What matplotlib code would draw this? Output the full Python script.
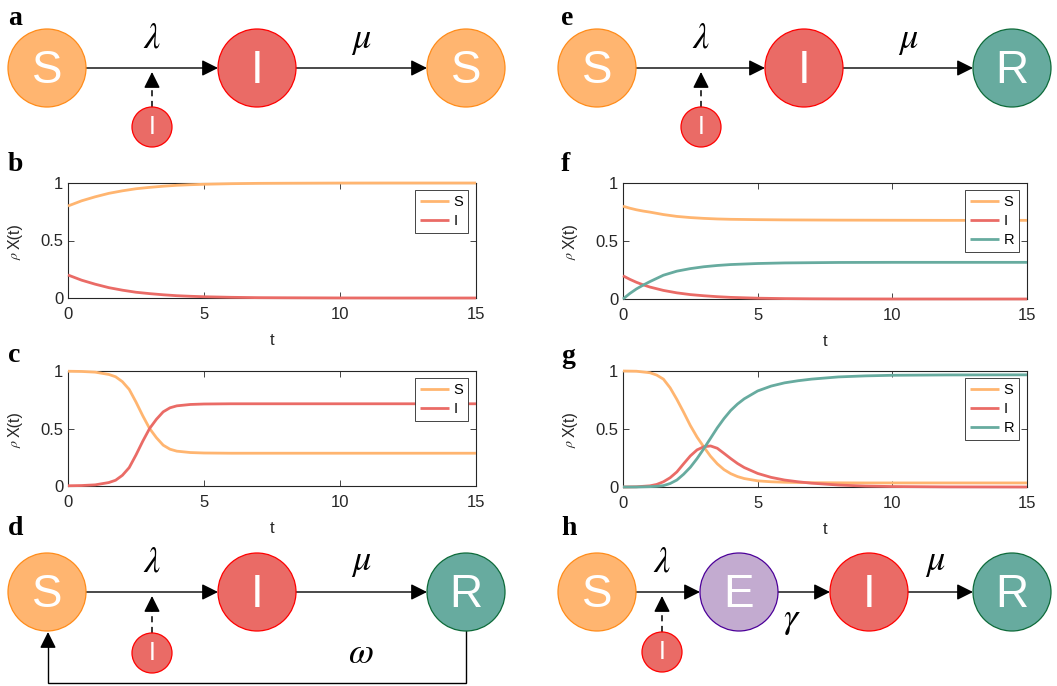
import matplotlib
matplotlib.use('Agg')
import matplotlib.pyplot as plt
from matplotlib.patches import Circle

plt.rcParams['font.family'] = ['Liberation Sans', 'DejaVu Sans']
plt.rcParams['mathtext.fontset'] = 'stix'

# ---------------- data ----------------
series_names = ['S', 'I', 'R']
tick_x = [0, 5, 10, 15]
tick_y = [0, 0.5, 1]
tick_y_labels = ['0', '0.5', '1']

# panel b: SIS, dying out
t_b = [0, 0.5, 1, 1.5, 2, 2.5, 3, 3.5, 4, 4.5, 5, 6, 7, 8, 10, 12, 15]
b_S = [0.80, 0.845, 0.88, 0.91, 0.932, 0.95, 0.962, 0.972, 0.98, 0.985, 0.989, 0.994, 0.997, 0.998, 0.9995, 1.0, 1.0]
b_I = [0.20, 0.155, 0.12, 0.09, 0.068, 0.05, 0.038, 0.028, 0.02, 0.015, 0.011, 0.006, 0.003, 0.002, 0.0005, 0.0, 0.0]

# panel c: SIS, endemic
t_c = [0, 0.5, 1, 1.5, 1.75, 2, 2.25, 2.5, 2.75, 3, 3.25, 3.5, 3.75, 4, 4.5, 5, 6, 8, 10, 15]
c_S = [0.998, 0.996, 0.99, 0.97, 0.95, 0.907, 0.84, 0.73, 0.61, 0.50, 0.42, 0.355, 0.32, 0.303, 0.291, 0.287, 0.285, 0.285, 0.285, 0.285]
c_I = [0.002, 0.004, 0.01, 0.03, 0.05, 0.093, 0.16, 0.27, 0.39, 0.50, 0.58, 0.645, 0.68, 0.697, 0.709, 0.713, 0.715, 0.715, 0.715, 0.715]

# panel f: SIR, small outbreak
t_f = [0, 0.25, 0.5, 0.75, 1, 1.5, 2, 2.5, 3, 3.5, 4, 5, 6, 7, 8, 10, 12, 15]
f_S = [0.80, 0.783, 0.769, 0.758, 0.749, 0.728, 0.712, 0.702, 0.695, 0.69, 0.687, 0.684, 0.682, 0.681, 0.680, 0.679, 0.678, 0.678]
f_I = [0.20, 0.170, 0.144, 0.122, 0.103, 0.074, 0.053, 0.038, 0.028, 0.020, 0.014, 0.007, 0.0035, 0.0018, 0.0009, 0.0002, 0.0, 0.0]
f_R = [0.0, 0.047, 0.087, 0.12, 0.15, 0.205, 0.24, 0.262, 0.278, 0.289, 0.297, 0.306, 0.311, 0.313, 0.315, 0.316, 0.316, 0.316]

# panel g: SIR, epidemic
t_g = [0, 0.5, 1, 1.25, 1.5, 1.75, 2, 2.25, 2.5, 2.75, 3, 3.25, 3.5, 3.75, 4, 4.25, 4.5, 5, 5.5, 6, 6.5, 7, 8, 9, 10, 12, 15]
g_S = [1.0, 0.998, 0.985, 0.965, 0.93, 0.855, 0.755, 0.645, 0.53, 0.43, 0.345, 0.265, 0.2, 0.15, 0.115, 0.09, 0.073, 0.053, 0.045, 0.041, 0.039, 0.037, 0.036, 0.035, 0.035, 0.035, 0.035]
g_I = [0.0, 0.002, 0.01, 0.022, 0.045, 0.08, 0.13, 0.2, 0.268, 0.32, 0.347, 0.354, 0.334, 0.29, 0.245, 0.203, 0.168, 0.117, 0.083, 0.06, 0.045, 0.033, 0.017, 0.008, 0.004, 0.001, 0.0]
g_R = [0.0, 0.0, 0.003, 0.006, 0.012, 0.03, 0.06, 0.11, 0.17, 0.245, 0.33, 0.42, 0.51, 0.59, 0.66, 0.715, 0.76, 0.828, 0.87, 0.898, 0.916, 0.93, 0.949, 0.958, 0.963, 0.966, 0.967]

colors = {'S': '#FFB570', 'I': '#EA6B66', 'R': '#67AB9F', 'E': '#C3ABD0'}
edges = {'S': '#FF8C1A', 'I': '#FF0000', 'R': '#0E6B3A', 'E': '#4C0099'}
AX_COL = '#262626'

W, H = 1057, 686
fig = plt.figure(figsize=(W / 100, H / 100), dpi=100)

# ---------------- overlay for diagrams (pixel coordinates) ----------------
ov = fig.add_axes([0, 0, 1, 1])
ov.set_xlim(0, W)
ov.set_ylim(H, 0)
ov.axis('off')


def node(x, y, r, key, label, fs):
    ov.add_patch(Circle((x, y), r, facecolor=colors[key], edgecolor=edges[key], lw=0.9, zorder=3))
    cap = fs * 100 / 72 * 0.716
    ov.text(x, y + cap / 2 - 1.5, label, color='white', fontsize=fs, ha='center', va='baseline',
            family='Liberation Sans', zorder=4)


def arrow(x0, y0, x1, y1):
    ov.annotate('', xy=(x1, y1), xytext=(x0, y0),
                arrowprops=dict(arrowstyle='-|>,head_length=0.7,head_width=0.35', color='black',
                                lw=1.0, shrinkA=0, shrinkB=0, mutation_scale=14), zorder=2)


def dashed_arrow(x, y0, y1):
    ov.plot([x, x], [y0, y1 + 9], color='black', lw=1.1, ls=(0, (4, 3)), zorder=2)
    arrow(x, y1 + 10, x, y1)


def sym(x, y, s, fs=26):
    ov.text(x, y, s, fontsize=fs, ha='center', va='baseline', color='black')


def plabel(x, y, s):
    ov.text(x, y, s, fontsize=20, fontweight='bold', family='Liberation Serif', ha='left', va='baseline')


R_BIG, R_SMALL = 39, 20
FS_BIG, FS_SMALL = 33, 18

# panel a
ya = 68
node(47, ya, R_BIG, 'S', 'S', FS_BIG)
node(257, ya, R_BIG, 'I', 'I', FS_BIG)
node(466, ya, R_BIG, 'S', 'S', FS_BIG)
node(152, 127, R_SMALL, 'I', 'I', FS_SMALL)
arrow(86, ya, 218, ya)
arrow(296, ya, 427, ya)
dashed_arrow(152, 107, 72)
sym(152, 48, r'$\lambda$')
sym(361, 48, r'$\mu$')
plabel(8, 25, 'a')

# panel e
node(597, ya, R_BIG, 'S', 'S', FS_BIG)
node(804, ya, R_BIG, 'I', 'I', FS_BIG)
node(1012, ya, R_BIG, 'R', 'R', FS_BIG)
node(701, 127, R_SMALL, 'I', 'I', FS_SMALL)
arrow(636, ya, 765, ya)
arrow(843, ya, 973, ya)
dashed_arrow(701, 107, 72)
sym(701, 48, r'$\lambda$')
sym(908, 48, r'$\mu$')
plabel(561, 25, 'e')

# panel d
yd = 592
node(47, yd, R_BIG, 'S', 'S', FS_BIG)
node(257, yd, R_BIG, 'I', 'I', FS_BIG)
node(466, yd, R_BIG, 'R', 'R', FS_BIG)
node(152, 653, R_SMALL, 'I', 'I', FS_SMALL)
arrow(86, yd, 218, yd)
arrow(296, yd, 427, yd)
dashed_arrow(152, 633, 596)
ov.plot([466, 466, 48, 48], [631, 683, 683, 645], color='black', lw=1.0, zorder=2,
        solid_joinstyle='miter')
arrow(48, 646, 48, 632)
sym(152, 572, r'$\lambda$')
sym(361, 570, r'$\mu$')
sym(361, 663, r'$\omega$')
plabel(8, 535, 'd')

# panel h
node(597, yd, R_BIG, 'S', 'S', FS_BIG)
node(739, yd, R_BIG, 'E', 'E', FS_BIG)
node(869, yd, R_BIG, 'I', 'I', FS_BIG)
node(1012, yd, R_BIG, 'R', 'R', FS_BIG)
node(662, 652, R_SMALL, 'I', 'I', FS_SMALL)
arrow(636, yd, 700, yd)
arrow(778, yd, 830, yd)
arrow(908, yd, 973, yd)
dashed_arrow(662, 632, 596)
sym(662, 572, r'$\lambda$')
sym(792, 628, r'$\gamma$')
sym(935, 570, r'$\mu$')
plabel(561, 535, 'h')

plabel(8, 171, 'b')
plabel(8, 362, 'c')
plabel(561, 171, 'f')
plabel(561, 363, 'g')


# ---------------- line plots ----------------
def make_axes(x0, x1, y0, y1):
    w, h = x1 - x0, y1 - y0
    ax = fig.add_axes([x0 / W, 1 - y1 / H, w / W, h / H])
    ax.set_xlim(0, 15)
    ax.set_ylim(0, 1)
    ax.set_xticks(tick_x)
    ax.set_yticks(tick_y)
    ax.set_yticklabels(tick_y_labels)
    ax.tick_params(direction='in', top=True, right=True, length=4, width=0.6,
                   colors=AX_COL, labelsize=12)
    ax.tick_params(axis='x', pad=6.5)
    ax.tick_params(axis='y', pad=3.5)
    for s in ax.spines.values():
        s.set_color(AX_COL)
        s.set_linewidth(0.8)
    ax.set_xlabel('t', fontsize=12, color=AX_COL)
    ax.xaxis.set_label_coords(0.5, -35 / h)
    # y label: small rho followed by X(t), rotated
    ax.set_ylabel('X(t)', fontsize=11.5, color=AX_COL)
    ax.yaxis.set_label_coords(-45 / w, 1 - 53 / h)
    ax.text(-52 / w, 1 - 72 / h, r'$\rho$', transform=ax.transAxes, rotation=90,
            fontsize=10, color=AX_COL, ha='center', va='center')
    return ax, w, h


def draw(ax, w, h, t, series):
    for name, vals in series:
        ax.plot(t, vals, color=colors[name], lw=2.0, label=name, clip_on=False,
                solid_capstyle='butt', zorder=3)
    leg = ax.legend(loc='upper right', bbox_to_anchor=(1 - 8 / w, 1 - 7 / h), borderaxespad=0,
                    fontsize=10.5, frameon=True, fancybox=False, framealpha=1,
                    edgecolor=AX_COL, handlelength=2.0, handletextpad=0.3,
                    borderpad=0.35, labelspacing=0.35)
    leg.get_frame().set_linewidth(0.6)
    leg.set_zorder(5)


ax_b, wb, hb = make_axes(68, 476, 183, 298)
draw(ax_b, wb, hb, t_b, [('S', b_S), ('I', b_I)])

ax_c, wc, hc = make_axes(68, 476, 371, 486)
draw(ax_c, wc, hc, t_c, [('S', c_S), ('I', c_I)])

ax_f, wf, hf = make_axes(623, 1027, 183, 299)
draw(ax_f, wf, hf, t_f, [('S', f_S), ('I', f_I), ('R', f_R)])

ax_g, wg, hg = make_axes(623, 1027, 371, 487)
draw(ax_g, wg, hg, t_g, [('S', g_S), ('I', g_I), ('R', g_R)])

fig.savefig('out.png', dpi=100, facecolor='white')
